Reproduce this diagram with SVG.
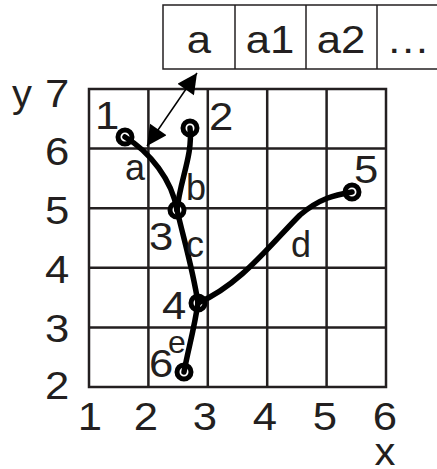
<svg xmlns="http://www.w3.org/2000/svg" width="437" height="469" viewBox="0 0 437 469">
<defs>
<style>
.t{font-family:"Liberation Sans",Arial,sans-serif;font-size:36px;fill:#231f20}
.n{font-size:38px}
.tc{text-anchor:middle}
.grid{stroke:#231f20;stroke-width:2.5;fill:none}
.tab{stroke:#231f20;stroke-width:1.5;fill:#fff}
.cur{stroke:#000;stroke-width:5.5;fill:none;stroke-linecap:round}
.pt{stroke:#000;stroke-width:5;fill:#fff}
</style>
<marker id="ah" viewBox="0 0 10 10" refX="10" refY="5" markerWidth="26" markerHeight="20" markerUnits="userSpaceOnUse" orient="auto-start-reverse">
<path d="M0,0 L10,5 L0,10 Z" fill="#000"/>
</marker>
</defs>
<g id="table">
<rect class="tab" x="163" y="5" width="280" height="64"/>
<line class="tab" x1="235" y1="5" x2="235" y2="69"/>
<line class="tab" x1="306" y1="5" x2="306" y2="69"/>
<line class="tab" x1="377" y1="5" x2="377" y2="69"/>
<text class="t n tc" transform="translate(199,53) scale(1.15,1)">a</text>
<text class="t n tc" transform="translate(270,53) scale(1.15,1)">a1</text>
<text class="t n tc" transform="translate(341,53) scale(1.15,1)">a2</text>
<text class="t n tc" transform="translate(408,53) scale(1.15,1)">…</text>
</g>
<g id="grid">
<rect class="grid" x="89" y="89" width="297" height="298"/>
<path class="grid" d="M148.4,89V387M207.8,89V387M267.2,89V387M326.6,89V387M89,148.6H386M89,208.2H386M89,267.8H386M89,327.4H386"/>
</g>
<g id="axes">
<text class="t n" transform="translate(12,107) scale(1.05,1)">y</text>
<text class="t n" transform="translate(45,107) scale(1.15,1)">7</text>
<text class="t n" transform="translate(45,165) scale(1.15,1)">6</text>
<text class="t n" transform="translate(45,224) scale(1.15,1)">5</text>
<text class="t n" transform="translate(45,283) scale(1.15,1)">4</text>
<text class="t n" transform="translate(45,342) scale(1.15,1)">3</text>
<text class="t n" transform="translate(45,399) scale(1.15,1)">2</text>
<text class="t n tc" transform="translate(90,430) scale(1.15,1)">1</text>
<text class="t n tc" transform="translate(146,430) scale(1.15,1)">2</text>
<text class="t n tc" transform="translate(205,430) scale(1.15,1)">3</text>
<text class="t n tc" transform="translate(265,430) scale(1.15,1)">4</text>
<text class="t n tc" transform="translate(325,430) scale(1.15,1)">5</text>
<text class="t n tc" transform="translate(385,430) scale(1.15,1)">6</text>
<text class="t n tc" transform="translate(385,465) scale(1.1,1)">x</text>
</g>
<g id="connectors">
<line x1="147" y1="146" x2="197" y2="73" stroke="#000" stroke-width="1.5" marker-start="url(#ah)" marker-end="url(#ah)"/>
</g>
<g id="nodes">
<circle class="pt" cx="125" cy="137" r="7"/>
<circle class="pt" cx="190" cy="128" r="7"/>
<circle class="pt" cx="177" cy="210" r="7"/>
<circle class="pt" cx="198" cy="303" r="7"/>
<circle class="pt" cx="352" cy="192" r="7"/>
<circle class="pt" cx="184" cy="372" r="7"/>
</g>
<g id="edges">
<path id="edge-a" class="cur" d="M125,137 C150,152 172,180 177,210"/>
<path id="edge-b" class="cur" d="M190,128 C193,155 180,180 177,210"/>
<path id="edge-c" class="cur" d="M177,210 C184,240 193,270 198,303"/>
<path id="edge-d" class="cur" d="M198,303 C240,285 270,245 300,215 C320,198 335,195 352,192"/>
<path id="edge-e" class="cur" d="M198,303 C194,330 188,350 184,372"/>
</g>
<g id="labels">
<text class="t n" transform="translate(95,129) scale(1.15,1)">1</text>
<text class="t n" transform="translate(209,130) scale(1.15,1)">2</text>
<text class="t n" transform="translate(149,250) scale(1.15,1)">3</text>
<text class="t n" transform="translate(162,319) scale(1.15,1)">4</text>
<text class="t n" transform="translate(354,183) scale(1.15,1)">5</text>
<text class="t n" transform="translate(149,377) scale(1.15,1)">6</text>
<text class="t" x="125" y="180">a</text>
<text class="t" x="186" y="200">b</text>
<text class="t" x="186" y="257">c</text>
<text class="t" x="291" y="257">d</text>
<text class="t" x="168" y="353" style="font-size:32px">e</text>
</g>
</svg>
